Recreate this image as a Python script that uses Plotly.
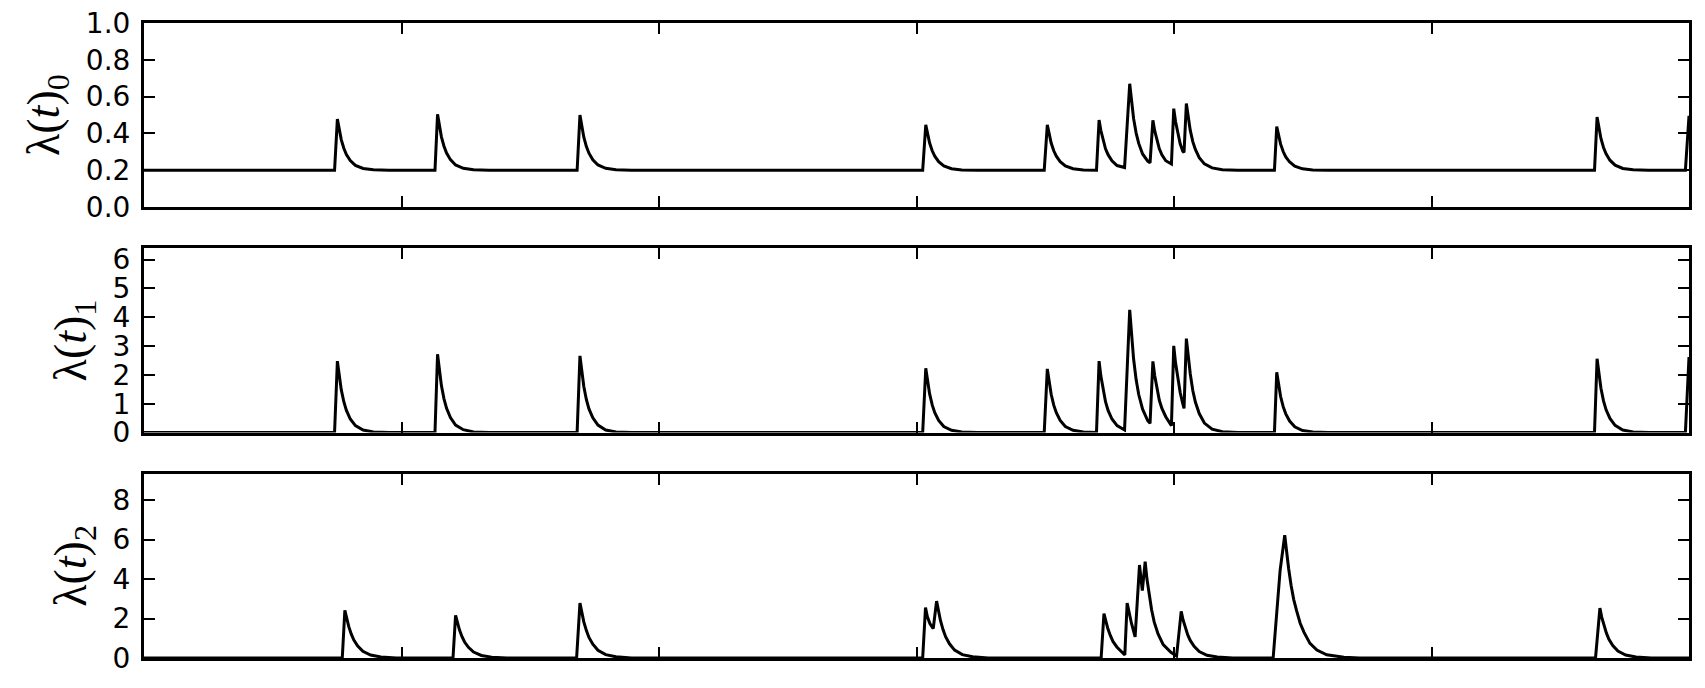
from plotly.subplots import make_subplots
import plotly.graph_objects as go

# time grid shared by lambda_0 and lambda_1 (same event times)
t_01 = [0.0,
        74.0, 75.1, 75.8, 76.6, 77.6, 78.6, 80.1, 82.1, 85.1, 89.1, 95.1,
        113.0, 114.0, 114.7, 115.5, 116.5, 117.5, 119.0, 121.0, 124.0, 128.0, 134.0,
        168.2, 169.3, 170.0, 170.8, 171.8, 172.8, 174.3, 176.3, 179.3, 183.3, 189.3,
        302.4, 303.6, 304.3, 305.1, 306.1, 307.1, 308.6, 310.6, 313.6, 317.6, 323.6,
        349.6, 350.8, 351.5, 352.3, 353.3, 354.3, 355.8, 357.8, 360.8, 364.8,
        369.9, 370.9, 371.6, 372.4, 373.4, 374.4, 375.9, 377.9,
        380.8, 382.8, 383.5, 384.3, 385.3, 386.3, 387.8, 389.8,
        390.7, 391.8, 392.5, 393.3, 394.3, 395.3, 396.8,
        399.0, 399.9, 400.6, 401.4, 402.4, 403.4,
        403.9, 404.8, 405.5, 406.3, 407.3, 408.3, 409.8, 411.8, 414.8, 418.8, 424.8,
        439.0, 439.9, 440.6, 441.4, 442.4, 443.4, 444.9, 446.9, 449.9, 453.9, 459.9,
        563.3, 564.3, 565.0, 565.8, 566.8, 567.8, 569.3, 571.3, 574.3, 578.3, 584.3,
        598.6, 600.0]

lam_0 = [0.2,
         0.2, 0.478, 0.420, 0.367, 0.320, 0.286, 0.253, 0.227, 0.210, 0.203, 0.2,
         0.2, 0.504, 0.440, 0.382, 0.331, 0.294, 0.258, 0.229, 0.211, 0.203, 0.2,
         0.2, 0.500, 0.437, 0.380, 0.329, 0.293, 0.257, 0.229, 0.211, 0.203, 0.2,
         0.2, 0.447, 0.395, 0.348, 0.306, 0.277, 0.247, 0.224, 0.209, 0.202, 0.2,
         0.2, 0.447, 0.395, 0.348, 0.306, 0.277, 0.247, 0.224, 0.209, 0.202,
         0.2, 0.473, 0.416, 0.364, 0.317, 0.285, 0.252, 0.226,
         0.215, 0.670, 0.571, 0.482, 0.402, 0.346, 0.289, 0.250,
         0.240, 0.472, 0.415, 0.363, 0.317, 0.284, 0.252,
         0.234, 0.535, 0.465, 0.401, 0.344, 0.304,
         0.297, 0.563, 0.487, 0.418, 0.356, 0.313, 0.269, 0.235, 0.213, 0.203, 0.2,
         0.2, 0.437, 0.387, 0.342, 0.302, 0.273, 0.245, 0.223, 0.208, 0.202, 0.2,
         0.2, 0.489, 0.428, 0.373, 0.324, 0.290, 0.255, 0.228, 0.210, 0.203, 0.2,
         0.2, 0.496]

lam_1 = [0.0,
         0.0, 2.48, 1.96, 1.49, 1.07, 0.77, 0.47, 0.24, 0.09, 0.02, 0.0,
         0.0, 2.72, 2.15, 1.63, 1.17, 0.84, 0.52, 0.26, 0.10, 0.02, 0.0,
         0.0, 2.66, 2.10, 1.60, 1.14, 0.82, 0.51, 0.26, 0.09, 0.02, 0.0,
         0.0, 2.23, 1.76, 1.34, 0.96, 0.69, 0.42, 0.21, 0.08, 0.02, 0.0,
         0.0, 2.21, 1.75, 1.33, 0.95, 0.69, 0.42, 0.21, 0.08, 0.02,
         0.0, 2.48, 1.96, 1.49, 1.07, 0.77, 0.47, 0.24,
         0.09, 4.26, 3.37, 2.56, 1.83, 1.32, 0.81, 0.41,
         0.32, 2.47, 1.98, 1.53, 1.12, 0.84, 0.55,
         0.24, 3.01, 2.42, 1.89, 1.39, 1.00,
         0.84, 3.26, 2.65, 2.05, 1.46, 1.06, 0.66, 0.33, 0.12, 0.03, 0.0,
         0.0, 2.09, 1.65, 1.25, 0.90, 0.65, 0.40, 0.20, 0.07, 0.02, 0.0,
         0.0, 2.56, 2.02, 1.54, 1.10, 0.79, 0.49, 0.25, 0.09, 0.02, 0.0,
         0.0, 2.62]

t_2 = [0.0,
       77.0, 78.0, 78.7, 79.5, 80.5, 81.5, 83.0, 85.0, 88.0, 92.0, 98.0,
       120.0, 121.0, 121.7, 122.5, 123.5, 124.5, 126.0, 128.0, 131.0, 135.0, 141.0,
       168.0, 169.3, 170.0, 170.8, 171.8, 172.8, 174.3, 176.3, 179.3, 183.3, 189.3,
       302.4, 303.5, 304.2, 305.2, 306.5,
       307.8, 308.5, 309.3, 310.3, 311.3, 312.8, 314.8, 317.8, 321.8, 327.8,
       371.7, 372.8, 373.5, 374.3, 375.3, 376.3, 377.8, 379.8,
       380.9, 381.8, 382.5, 383.5,
       384.9, 386.6,
       387.7, 388.8, 389.5, 390.3, 391.3, 392.3, 393.8, 395.8, 398.8,
       401.0, 402.8, 403.5, 404.3, 405.3, 406.3, 407.8, 409.8, 412.8, 416.8, 422.8,
       438.5, 441.2, 443.0, 443.7, 444.5, 445.5, 446.5, 447.6, 449.0, 450.5, 452.8,
       455.5, 459.3, 466.0, 472.0,
       563.7, 565.4, 566.1, 566.9, 567.9, 568.9, 570.4, 572.4, 575.4, 579.4, 585.4,
       600.0]

lam_2 = [0.0,
         0.0, 2.42, 1.98, 1.60, 1.21, 0.91, 0.61, 0.34, 0.15, 0.05, 0.0,
         0.0, 2.16, 1.77, 1.43, 1.08, 0.81, 0.54, 0.30, 0.13, 0.04, 0.0,
         0.0, 2.78, 2.28, 1.83, 1.39, 1.04, 0.70, 0.39, 0.17, 0.06, 0.0,
         0.0, 2.55, 2.10, 1.75, 1.49,
         2.88, 2.36, 1.90, 1.44, 1.08, 0.72, 0.40, 0.17, 0.06, 0.0,
         0.0, 2.25, 1.85, 1.49, 1.13, 0.84, 0.56, 0.32,
         0.15, 2.78, 2.28, 1.75,
         1.07, 4.71,
         3.42, 4.88, 4.00, 3.20, 2.44, 1.83, 1.22, 0.68, 0.29,
         0.10, 2.36, 1.94, 1.56, 1.18, 0.89, 0.59, 0.33, 0.14, 0.05, 0.0,
         0.0, 4.43, 6.22, 5.40, 4.55, 3.66, 2.96, 2.40, 1.76, 1.30, 0.74,
         0.40, 0.16, 0.04, 0.0,
         0.0, 2.53, 2.07, 1.67, 1.27, 0.95, 0.63, 0.35, 0.15, 0.05, 0.0,
         0.0]

y_labels = ["λ(<i>t</i>)<sub>0</sub>", "λ(<i>t</i>)<sub>1</sub>", "λ(<i>t</i>)<sub>2</sub>"]
y_ranges = [[0, 1.0], [0, 6.39], [0, 9.33]]
y_ticks = [[0.0, 0.2, 0.4, 0.6, 0.8, 1.0], [0, 1, 2, 3, 4, 5, 6], [0, 2, 4, 6, 8]]
x_ticks = [100, 200, 300, 400, 500]

series = [(t_01, lam_0), (t_01, lam_1), (t_2, lam_2)]

fig = make_subplots(rows=3, cols=1, shared_xaxes=True, vertical_spacing=0.065)

for i, (tt, lam) in enumerate(series):
    fig.add_trace(go.Scatter(x=tt, y=lam, mode="lines",
                             line=dict(color="black", width=3),
                             showlegend=False),
                  row=i + 1, col=1)
    fig.update_yaxes(range=y_ranges[i], tickvals=y_ticks[i],
                     tickformat=".1f" if i == 0 else "d",
                     title=dict(text=y_labels[i], standoff=12,
                                font=dict(family="Liberation Serif", size=46,
                                          color="black")),
                     row=i + 1, col=1)

fig.update_xaxes(range=[0, 600], tickvals=x_ticks, showticklabels=False,
                 ticks="inside", ticklen=11, tickwidth=1.5, tickcolor="black",
                 showline=True, linewidth=3, linecolor="black", mirror="allticks",
                 showgrid=False, zeroline=False, automargin=False)
fig.update_yaxes(ticks="inside", ticklen=11, tickwidth=1.5, tickcolor="black",
                 showline=True, linewidth=3, linecolor="black", mirror="allticks",
                 showgrid=False, zeroline=False, ticklabelstandoff=5,
                 automargin=False, ticklabeloverflow="allow",
                 tickfont=dict(family="DejaVu Sans", size=28, color="black"))

# page body adds an 8px offset, so the figure is sized to sit inside the window
fig.update_layout(width=1689, height=672,
                  margin=dict(l=136, r=8, t=15, b=22),
                  plot_bgcolor="white", paper_bgcolor="white")

fig.write_html("out.html")
